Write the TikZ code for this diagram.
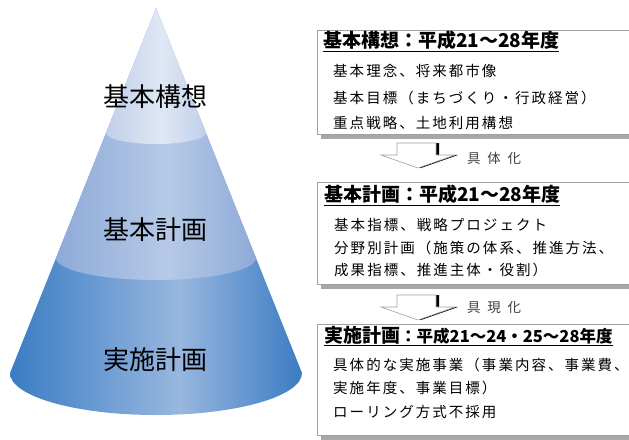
\documentclass[tikz,border=0pt]{standalone}
\usepackage{fontspec}
\setmainfont{Noto Sans CJK JP}
\newfontfamily\bodyfont[LetterSpace=14]{Noto Sans CJK JP}
\newfontfamily\stepfont[LetterSpace=50]{Noto Sans CJK JP}
\usetikzlibrary{shadows}

\definecolor{topedge}{HTML}{C0CFE9}
\definecolor{topmid}{HTML}{DFE7F4}
\definecolor{midedge}{HTML}{8EAAD8}
\definecolor{midmid}{HTML}{B6CAE7}
\definecolor{botedge}{HTML}{3B7CC3}
\definecolor{botmid}{HTML}{98B7DF}
\definecolor{boxgray}{HTML}{A0A0A0}
\definecolor{shadowgray}{HTML}{A8A8A8}

\pgfdeclarehorizontalshading{conetop}{100bp}{color(0bp)=(topedge); color(25bp)=(topedge); color(53bp)=(topmid); color(75bp)=(topedge); color(100bp)=(topedge)}
\pgfdeclarehorizontalshading{conemid}{100bp}{color(0bp)=(midedge); color(25bp)=(midedge); color(53bp)=(midmid); color(75bp)=(midedge); color(100bp)=(midedge)}
\pgfdeclarehorizontalshading{conebot}{100bp}{color(0bp)=(botedge); color(25bp)=(botedge); color(54bp)=(botmid); color(75bp)=(botedge); color(100bp)=(botedge)}

\begin{document}
\begin{tikzpicture}[x=1pt,y=-1pt,
  infobox/.style={draw=boxgray, line width=0.8pt, fill=white, anchor=north west,
    inner sep=0pt, minimum width=330pt,
    drop shadow={shadow xshift=4pt, shadow yshift=-5pt, fill=shadowgray, opacity=1}},
  boxtitle/.style={anchor=west, inner sep=0pt, font=\bfseries\fontsize{19pt}{22pt}\selectfont},
  boxline/.style={anchor=west, inner sep=0pt, font=\bodyfont\fontsize{14.5pt}{17pt}\selectfont},
  conelabel/.style={inner sep=0pt, font=\fontsize{26pt}{30pt}\selectfont},
  steplabel/.style={anchor=west, inner sep=0pt, text=black!75, font=\stepfont\fontsize{13.5pt}{15pt}\selectfont},
  blockarrow/.style={fill=white, draw=boxgray, line width=0.6pt}]
\useasboundingbox (0,0) rectangle (629,439);

% cone
\shade[shading=conebot] (156,8) -- (10,373) arc[start angle=180, end angle=0, x radius=146, y radius=42] -- cycle;
\shade[shading=conemid] (156,8) -- (56,258) arc[start angle=180, end angle=0, x radius=100, y radius=22] -- cycle;
\shade[shading=conetop] (156,8) -- (106,133) arc[start angle=180, end angle=0, x radius=50, y radius=11] -- cycle;

\node[conelabel] (koso) at (155,97) {基本構想};
\node[conelabel] (keikaku) at (155,230) {基本計画};
\node[conelabel] (jisshi) at (155,360) {実施計画};

% boxes
\node[infobox, minimum height=104pt] (box1) at (317,30) {};
\node[infobox, minimum height=102pt] (box2) at (317,182) {};
\node[infobox, minimum height=111pt] (box3) at (317,324) {};

\node[boxtitle] (t1) at (323,41) {\underline{基本構想：平成21～28年度}};
\node[boxline] (t1a) at (333,71) {基本理念、将来都市像};
\node[boxline] (t1b) at (333,98) {基本目標（まちづくり・行政経営）};
\node[boxline] (t1c) at (333,123) {重点戦略、土地利用構想};

\node[boxtitle] (t2) at (324,195) {\underline{基本計画：平成21～28年度}};
\node[boxline] (t2a) at (334,225) {基本指標、戦略プロジェクト};
\node[boxline] (t2b) at (334,248) {分野別計画（施策の体系、推進方法、};
\node[boxline] (t2c) at (334,270) {成果指標、推進主体・役割）};

\node[boxtitle] (t3) at (324,336) {\underline{実施計画{\fontsize{16.5pt}{20pt}\selectfont ：平成21～24・25～28年度}}};
\node[boxline] (t3a) at (333,365) {具体的な実施事業（事業内容、事業費、};
\node[boxline] (t3b) at (333,388) {実施年度、事業目標）};
\node[boxline] (t3c) at (333,412) {ローリング方式不採用};

% arrows between boxes
\fill[black, xshift=3pt] (397,143) -- (436,143) -- (436,155) -- (455,155) -- (418,168) -- (381,155) -- (397,155) -- cycle;
\path[blockarrow] (397,143) -- (436,143) -- (436,155) -- (455,155) -- (418,168) -- (381,155) -- (397,155) -- cycle;
\node[steplabel] (gutai) at (467,158) {具体化};

\fill[black, xshift=3pt] (397,295) -- (436,295) -- (436,307) -- (455,307) -- (418,320) -- (381,307) -- (397,307) -- cycle;
\path[blockarrow] (397,295) -- (436,295) -- (436,307) -- (455,307) -- (418,320) -- (381,307) -- (397,307) -- cycle;
\node[steplabel] (gugen) at (467,308) {具現化};
\end{tikzpicture}
\end{document}
